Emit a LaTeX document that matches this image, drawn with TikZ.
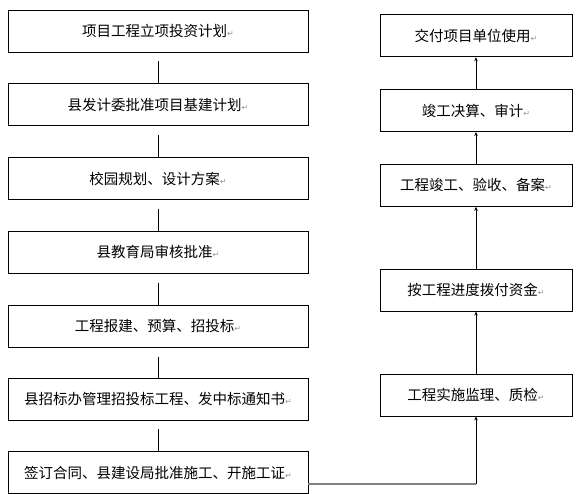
\documentclass[tikz,border=0pt]{standalone}
\usepackage{fontspec}
\setmainfont{Noto Sans CJK SC}
\newfontfamily\retfont{DejaVu Sans}
\usepackage{xcolor}
\usetikzlibrary{arrows.meta, positioning}
\definecolor{feedgray}{RGB}{128, 128, 128}
\definecolor{markgray}{RGB}{150, 150, 150}
\newcommand{\retmark}{{\retfont\fontsize{8}{8}\selectfont\textcolor{markgray}{↵}}}
\tikzset{
  stagebox/.style={rectangle, draw=black, line width=0.8pt, fill=white,
                   minimum width=#1, minimum height=42pt, inner sep=0pt,
                   font=\fontsize{14.5}{17}\selectfont},
  stagebox/.default=300pt,
  link/.style={line width=0.8pt},
  arrow/.style={-{Stealth[length=4pt, width=3.5pt]}, line width=0.8pt},
  feed/.style={line width=1.6pt, color=feedgray},
}

\begin{document}
\begin{tikzpicture}[x=1pt, y=1pt, node distance=31pt]
        \useasboundingbox (0,0) rectangle (587,-494);
        % left column
        \node[stagebox] (lixiang) at (158,-31) {项目工程立项投资计划\retmark};
        \node[stagebox, below=of lixiang] (jihua) {县发计委批准项目基建计划\retmark};
        \node[stagebox, below=of jihua] (guihua) {校园规划、设计方案\retmark};
        \node[stagebox, below=of guihua] (shenhe) {县教育局审核批准\retmark};
        \node[stagebox, below=of shenhe] (baojian) {工程报建、预算、招投标\retmark};
        \node[stagebox, below=30pt of baojian] (zhaobiao) {县招标办管理招投标工程、发中标通知书\retmark};
        \node[stagebox, below=of zhaobiao] (hetong) {签订合同、县建设局批准施工、开施工证\retmark};
        
        \foreach \source/\target in {lixiang/jihua, jihua/guihua, guihua/shenhe,
                                     shenhe/baojian, baojian/zhaobiao, zhaobiao/hetong}
          \draw[link] ([yshift=-9pt]\source.south) -- (\target.north);
        
        % right column
        \node[stagebox=192pt] (jianli) at (476,-395) {工程实施监理、质检\retmark};
        \node[stagebox=192pt, above=62pt of jianli] (bofu) {按工程进度拨付资金\retmark};
        \node[stagebox=192pt, above=62pt of bofu] (jungong) {工程竣工、验收、备案\retmark};
        \node[stagebox=192pt, above=32pt of jungong] (juesuan) {竣工决算、审计\retmark};
        \node[stagebox=192pt, above=32pt of juesuan] (jiaofu) {交付项目单位使用\retmark};
        
        \foreach \source/\target in {jianli/bofu, bofu/jungong, jungong/juesuan, juesuan/jiaofu}
          \draw[arrow] (\source.north) -- (\target.south);
        
        % from contract to supervision
        \coordinate (feedstart) at ([yshift=-11pt]hetong.east);
        \coordinate (corner) at (feedstart -| jianli.south);
        \draw[feed] (feedstart) -- (corner);
        \draw[arrow] (corner) -- (jianli.south);
      \end{tikzpicture}
\end{document}
